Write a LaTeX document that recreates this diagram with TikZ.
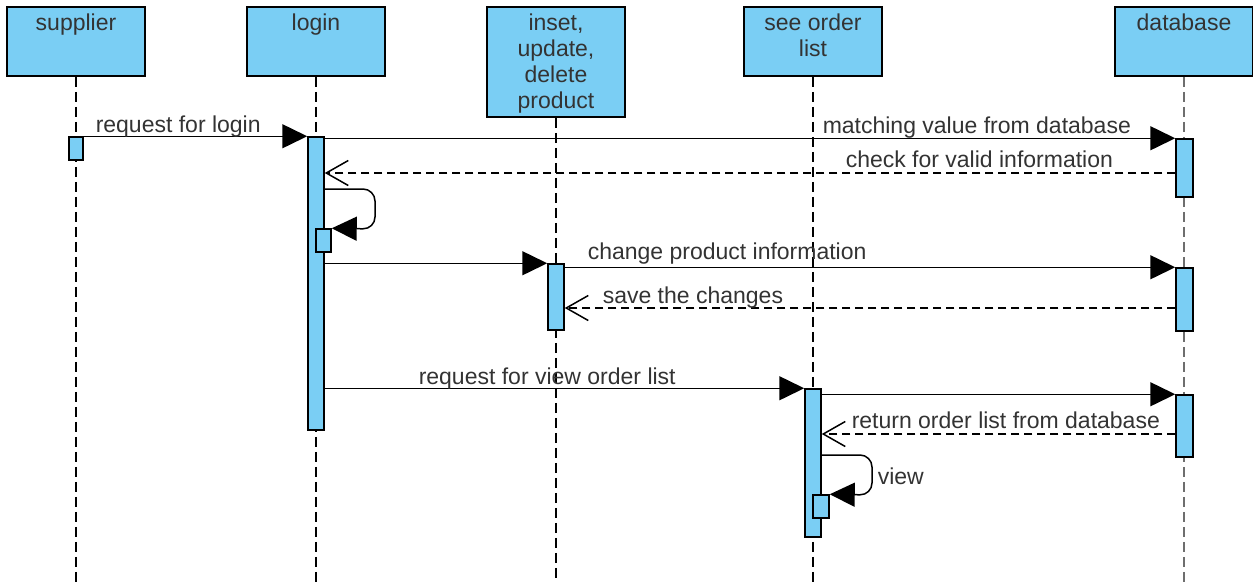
\documentclass[tikz,border=0pt]{standalone}
\usepackage{fontspec}
\setmainfont{Liberation Sans}
\usetikzlibrary{arrows.meta}
\definecolor{lb}{RGB}{122,206,244}
\definecolor{tx}{RGB}{51,51,51}
\definecolor{dbline}{RGB}{110,110,110}
\begin{document}
\begin{tikzpicture}[x=1pt,y=-1pt,
 head/.style={draw=black, line width=1.8pt, fill=lb, minimum width=138pt, inner sep=0pt},
 htext/.style={anchor=north, inner sep=0pt, align=center, text=tx, font=\fontsize{23}{26}\selectfont},
 act/.style={draw=black, line width=1.5pt, fill=lb, inner sep=0pt},
 life/.style={line width=1.5pt, dash pattern=on 10pt off 5pt},
 msg/.style={line width=1.5pt, -{Triangle[length=25pt,width=24pt]}},
 ret/.style={line width=1.5pt, dash pattern=on 8pt off 5pt, -{Straight Barb[length=22pt,width=25pt]}},
 lbl/.style={anchor=base west, inner sep=0pt, text=tx, font=\fontsize{23}{26}\selectfont}]
\useasboundingbox (0,0) rectangle (1253,582);
% heads
\node[head, minimum height=69pt] (sup) at (76,41.5) {};
\node[head, minimum height=69pt] (log) at (316,41.5) {};
\node[head, minimum height=110pt] (ins) at (556,62) {};
\node[head, minimum height=69pt] (ord) at (813,41.5) {};
\node[head, minimum height=69pt] (db) at (1184,41.5) {};
\node[htext] (supT) at (76,14) {supplier};
\node[htext] (logT) at (316,14) {login};
\node[htext] (insT) at (556,14) {inset,\\update,\\delete\\product};
\node[htext] (ordT) at (813,14) {see order\\list};
\node[htext] (dbT) at (1184,14) {database};
% lifelines
\draw[life] (sup.south) -- (sup.south |- 0,582);
\draw[life] (log.south) -- (log.south |- 0,582);
\draw[life] (ins.south) -- (ins.south |- 0,582);
\draw[life] (ord.south) -- (ord.south |- 0,582);
\draw[life, draw=dbline, line width=2.5pt] (db.south) -- (db.south |- 0,582);
% activations
\node[act, minimum width=14pt, minimum height=23pt] (sA) at (76,148.5) {};
\node[act, minimum width=16pt, minimum height=293pt] (lA) at (316,283.5) {};
\node[act, minimum width=15pt, minimum height=23pt] (lS) at (323.5,240.5) {};
\node[act, minimum width=16pt, minimum height=66pt] (iA) at (556,297) {};
\node[act, minimum width=16pt, minimum height=148pt] (oA) at (813,463) {};
\node[act, minimum width=16pt, minimum height=23pt] (oS) at (821,506.5) {};
\node[act, minimum width=17pt, minimum height=58pt] (d1) at (1184.5,168) {};
\node[act, minimum width=17pt, minimum height=63pt] (d2) at (1184.5,299.5) {};
\node[act, minimum width=17pt, minimum height=62pt] (d3) at (1184.5,426) {};
% messages
\draw[msg] (sA.north east) -- (lA.north west)
  node[lbl] at (95,132) {request for login};
\draw[msg] (lA.east |- d1.north) -- (d1.north west)
  node[lbl] at (822,133) {matching value from database};
\draw[ret] (d1.west |- 0,173) -- (lA.east |- 0,173)
  node[lbl] at (845,167) {check for valid information};
\draw[msg, rounded corners=12pt] (lA.east |- 0,189) -| (375,229) -- (lS.north east);
\draw[msg] (lA.east |- iA.north) -- (iA.north west);
\draw[msg] (iA.east |- d2.north) -- (d2.north west)
  node[lbl] at (587,259) {change product information};
\draw[ret] (d2.west |- 0,308) -- (iA.east |- 0,308)
  node[lbl] at (602,303) {save the changes};
\draw[msg] (lA.east |- oA.north) -- (oA.north west)
  node[lbl] at (418,384) {request for view order list};
\draw[msg] (oA.east |- d3.north) -- (d3.north west);
\draw[ret] (d3.west |- 0,434) -- (oA.east |- 0,434)
  node[lbl] at (851,428) {return order list from database};
\draw[msg, rounded corners=12pt] (oA.east |- 0,455) -| (872,495) -- (oS.north east)
  node[lbl] at (877,484) {view};
\end{tikzpicture}
\end{document}
